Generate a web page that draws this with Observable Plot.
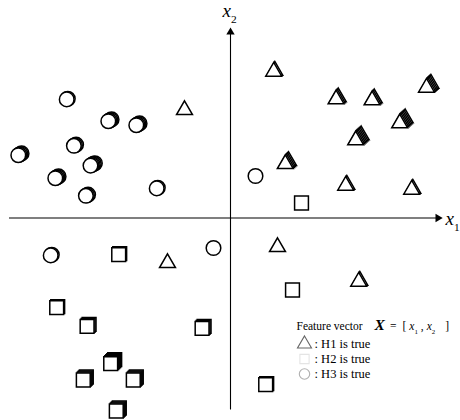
<!DOCTYPE html>
<html><head><meta charset="utf-8">
<script src="https://cdn.jsdelivr.net/npm/d3@7"></script>
<script src="https://cdn.jsdelivr.net/npm/@observablehq/plot@0.6"></script>
<style>
html,body{margin:0;padding:0;background:#fff}
#chart svg{display:block}
#chart svg text{font-family:"Liberation Serif","DejaVu Serif","Times New Roman",serif}
</style>
</head><body><div id="chart"></div>
<script>
// H1 (triangles): x1, x2 and number of stacked observations
const h1X = [-2.3, 2.16, 5.28, 7.08, 9.8, 8.46, 6.26, 2.74, 5.76, 9.06, -3.15, 2.35, 6.41];
const h1Y = [5.4, 7.32, 5.94, 5.89, 6.52, 4.74, 3.89, 2.70, 1.62, 1.42, -2.25, -1.45, -3.18];
const h1N = [1, 2, 3, 3, 5, 6, 6, 4, 2, 2, 1, 1, 2];
// H2 (squares)
const h2X = [3.55, -5.59, -8.69, -7.17, -1.42, -5.99, -7.36, -4.86, -5.71, 3.1, 1.76];
const h2Y = [0.75, -1.83, -4.48, -5.42, -5.52, -7.28, -8.1, -8.1, -9.65, -3.6, -8.33];
const h2N = [1, 2, 2, 3, 3, 5, 4, 4, 4, 1, 2];
// H3 (circles)
const h3X = [-8.19, -6.11, -4.71, -7.83, -10.61, -7.0, -8.76, -7.23, -3.69, 1.25, -8.99, -0.85];
const h3Y = [5.93, 4.84, 4.64, 3.61, 3.14, 2.62, 1.99, 1.11, 1.48, 2.1, -1.87, -1.5];
const h3N = [2, 4, 4, 3, 4, 5, 4, 3, 2, 1, 2, 1];

// axis extents (data units)
const axisX = [-11.05, 10.4];
const axisY = [-9.6, 9.3];
const arrowX = 10.37;
const arrowY = 9.29;

// legend
const legendHeader = "Feature vector X = [x1 , x2 ]";
const legendLabels = [": H1 is true", ": H2 is true", ": H3 is true"];
const legendSymbols = ["triangle", "square", "circle"];
const legendRows = [-6.3, -7.05, -7.8];

const classes = [
  {name: "H1", X: h1X, Y: h1Y, N: h1N, symbol: "triangle", r: 5.9, ox: 1.1, oy: -1.0},
  {name: "H2", X: h2X, Y: h2Y, N: h2N, symbol: "square", r: 7.8, ox: 1.0, oy: -1.0},
  {name: "H3", X: h3X, Y: h3Y, N: h3N, symbol: "circle", r: 7.3, ox: 1.1, oy: -0.6}
];
const points = classes.map(c => c.X.map((x, i) => ({x, y: c.Y[i], n: c.N[i], cls: c.name})));
const maxN = d3.max(classes.flatMap(c => c.N));

const dotMarks = [];
for (let k = maxN - 1; k >= 0; k--) {
  classes.forEach((c, ci) => {
    const sub = points[ci].filter(d => d.n > k);
    if (!sub.length) return;
    dotMarks.push(Plot.dot(sub, {
      x: "x", y: "y", symbol: c.symbol, r: c.r,
      fill: "white", stroke: "black", strokeWidth: 1.5,
      dx: k * c.ox, dy: k * c.oy
    }));
  });
}

const legendData = legendLabels.map((t, i) => ({t, s: legendSymbols[i], y: legendRows[i]}));
const legendColors = ["#666", "#e4e4e4", "#b0b0b0"];
const serif = "Liberation Serif, DejaVu Serif, serif";

const plot = Plot.plot({
  width: 460, height: 420, margin: 0,
  x: {domain: [-11.5, 11.5], axis: null},
  y: {domain: [-10.125, 10.875], axis: null},
  style: {fontFamily: serif, background: "white", color: "black"},
  marks: [
    Plot.ruleY([0], {x1: axisX[0], x2: axisX[1], stroke: "black", strokeWidth: 1.2}),
    Plot.ruleX([0], {y1: axisY[0], y2: axisY[1], stroke: "black", strokeWidth: 1.1}),
    Plot.dot([{x: arrowX, y: 0}], {x: "x", y: "y", symbol: "triangle", rotate: 90, r: 3.1, fill: "black"}),
    Plot.dot([{x: 0, y: arrowY}], {x: "x", y: "y", symbol: "triangle", rotate: 0, r: 3.1, fill: "black"}),
    ...dotMarks,
    Plot.text([{x: axisX[1], y: 0}], {x: "x", y: "y", text: () => "x1", textAnchor: "start", dx: 7, dy: 1, fontSize: 19, fontFamily: serif}),
    Plot.text([{x: 0, y: axisY[1]}], {x: "x", y: "y", text: () => "x2", textAnchor: "start", dx: -8, dy: -21, fontSize: 19, fontFamily: serif}),
    Plot.text([{x: 3.3, y: -5.425}], {x: "x", y: "y", text: () => legendHeader, textAnchor: "start", fontSize: 11.5, fontFamily: serif}),
    Plot.dot(legendData, {x: () => 3.7, y: "y", symbol: "s", r: 5.2, fill: "white", stroke: (d, i) => legendColors[i], strokeWidth: 1.1}),
    Plot.text(legendData, {x: () => 4.2, y: "y", text: "t", textAnchor: "start", fontSize: 12.5, fontFamily: serif})
  ]
});

// rich text (italic variables, subscripts); third item = extra gap in px
const rich = {
  "x1": [["x", "i"], ["1", "sub"]],
  "x2": [["x", "i"], ["2", "sub"]],
  [legendHeader]: [["Feature vector", ""], ["X", "bi", 12], ["=", "", 5], ["[", "", 6], ["x", "i", 3], ["1", "sub"], [",", "", 3], ["x", "i", 3], ["2", "sub"], ["]", "", 10]]
};
const svgEl = plot.tagName.toLowerCase() === "svg" ? plot : plot.querySelector("svg");
d3.select(svgEl).selectAll("text").each(function () {
  const segs = rich[this.textContent];
  if (!segs) return;
  const el = d3.select(this);
  el.text("");
  let shift = 0;
  const fsAttr = this.getAttribute("font-size") || (this.parentNode && this.parentNode.getAttribute("font-size"));
  const fs = parseFloat(fsAttr) || 12;
  for (const [t, st, gap] of segs) {
    const ts = el.append("tspan").text(t);
    const target = st === "sub" ? fs * 0.3 : 0;
    if (target !== shift) { ts.attr("dy", target - shift); shift = target; }
    if (gap) ts.attr("dx", gap);
    if (st === "i") ts.attr("font-style", "italic");
    if (st === "bi") ts.attr("font-style", "italic").attr("font-weight", "bold").attr("font-size", "1.35em");
    if (st === "sub") ts.attr("font-size", "0.6em");
  }
});
document.getElementById("chart").appendChild(plot);
</script>
</body></html>
